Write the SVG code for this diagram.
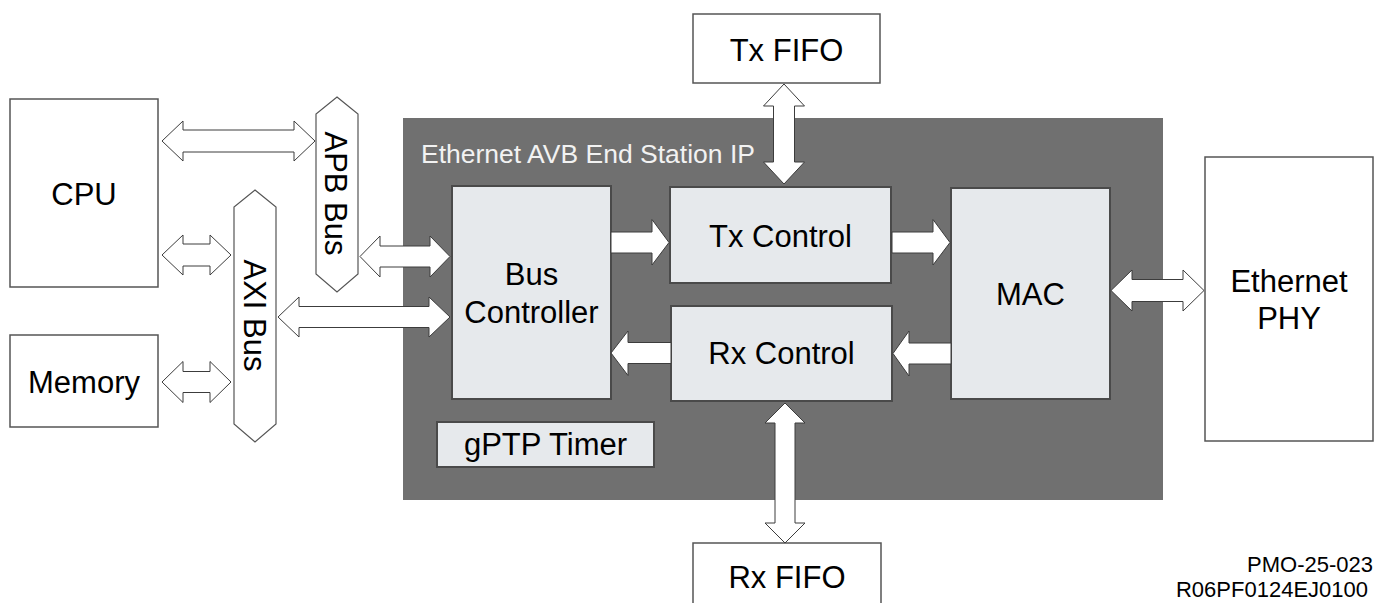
<svg xmlns="http://www.w3.org/2000/svg" width="1376" height="603" viewBox="0 0 1376 603">
<style>
.wbox{fill:#ffffff;stroke:#555555;stroke-width:1.5}
.lbox{fill:#e6e9ec;stroke:#4a4a4a;stroke-width:2}
.bus{fill:#ffffff;stroke:#555555;stroke-width:1.2}
.arr{fill:#ffffff;stroke:#3c3c3c;stroke-width:1}
.t{font-family:"Liberation Sans",Arial,sans-serif;font-size:31px;fill:#000000;text-anchor:middle}
.lbl{font-family:"Liberation Sans",Arial,sans-serif;font-size:26.5px;fill:#f2f2f2}
.note{font-family:"Liberation Sans",Arial,sans-serif;font-size:22px;fill:#000000;text-anchor:end}
</style>
<rect width="1376" height="603" fill="#ffffff"/>
<g id="ip-block">
<rect x="403" y="118" width="760" height="382" fill="#707070"/>
<text class="lbl" x="421" y="163">Ethernet AVB End Station IP</text>
</g>
<g id="cpu"><rect class="wbox" x="10" y="99" width="148" height="188"/><text class="t" x="84" y="205">CPU</text></g>
<g id="memory"><rect class="wbox" x="10" y="335" width="148" height="92"/><text class="t" x="84" y="393">Memory</text></g>
<g id="apb-bus"><polygon class="bus" points="337,97 358,114 358,274 337,292 316,274 316,114"/><text class="t" transform="translate(325,193.5) rotate(90)">APB Bus</text></g>
<g id="axi-bus"><polygon class="bus" points="255,190 276,207 276,424 255,442 234,424 234,207"/><text class="t" transform="translate(243.5,315.5) rotate(90)">AXI Bus</text></g>
<g id="tx-fifo"><rect class="wbox" x="693" y="14" width="187" height="69"/><text class="t" x="786.5" y="61">Tx FIFO</text></g>
<g id="rx-fifo"><rect class="wbox" x="693" y="543" width="188" height="80"/><text class="t" x="787" y="588">Rx FIFO</text></g>
<g id="ethernet-phy"><rect class="wbox" x="1205" y="157" width="168" height="284"/><text class="t" x="1289" y="292">Ethernet</text><text class="t" x="1289" y="329">PHY</text></g>
<g id="bus-controller"><rect class="lbox" x="452" y="186" width="159" height="213"/><text class="t" x="531.5" y="285">Bus</text><text class="t" x="531.5" y="323">Controller</text></g>
<g id="tx-control"><rect class="lbox" x="670" y="187" width="221" height="96"/><text class="t" x="780.5" y="247">Tx Control</text></g>
<g id="rx-control"><rect class="lbox" x="671" y="306" width="221" height="95"/><text class="t" x="781.5" y="364">Rx Control</text></g>
<g id="mac"><rect class="lbox" x="951" y="188" width="159" height="211"/><text class="t" x="1030.5" y="305">MAC</text></g>
<g id="gptp-timer"><rect class="lbox" x="437" y="422" width="217" height="45"/><text class="t" x="545.5" y="455">gPTP Timer</text></g>
<g id="connectors">
<path class="arr" d="M162,141 L183,121 L183,130 L294,130 L294,121 L315,141 L294,161 L294,152 L183,152 L183,161 Z"/>
<path class="arr" d="M162,255 L183,235 L183,244 L210,244 L210,235 L231,255 L210,275 L210,266 L183,266 L183,275 Z"/>
<path class="arr" d="M162,382 L183,361.5 L183,371.5 L210,371.5 L210,361.5 L231,382 L210,402.5 L210,392.5 L183,392.5 L183,402.5 Z"/>
<path class="arr" d="M360,256.5 L380,236 L380,246 L430,246 L430,236 L450,256.5 L430,277 L430,267 L380,267 L380,277 Z"/>
<path class="arr" d="M278,317 L299,297 L299,306.5 L429,306.5 L429,297 L450,317 L429,337 L429,327.5 L299,327.5 L299,337 Z"/>
<path class="arr" d="M1111,290.5 L1132,270 L1132,279.5 L1183,279.5 L1183,270 L1204,290.5 L1183,311 L1183,301.5 L1132,301.5 L1132,311 Z"/>
<path class="arr" d="M784,84 L804.5,106 L794.5,106 L794.5,162 L804.5,162 L784,184 L763.5,162 L773.5,162 L773.5,106 L763.5,106 Z"/>
<path class="arr" d="M785,403 L805,423 L795,423 L795,523 L805,523 L785,543 L765,523 L775,523 L775,423 L765,423 Z"/>
<path class="arr" d="M611,232 L652,232 L652,219.5 L669,242.5 L652,265 L652,253 L611,253 Z"/>
<path class="arr" d="M892,232 L933,232 L933,219.5 L950,242.5 L933,265 L933,253 L892,253 Z"/>
<path class="arr" d="M951,343 L909,343 L909,331 L893,353.5 L909,376 L909,364 L951,364 Z"/>
<path class="arr" d="M671,342.5 L628,342.5 L628,331 L611,353 L628,375.5 L628,363.5 L671,363.5 Z"/>
</g>
<g id="doc-ref">
<text class="note" x="1373" y="572">PMO-25-023</text>
<text class="note" x="1368" y="597">R06PF0124EJ0100</text>
</g>
</svg>
